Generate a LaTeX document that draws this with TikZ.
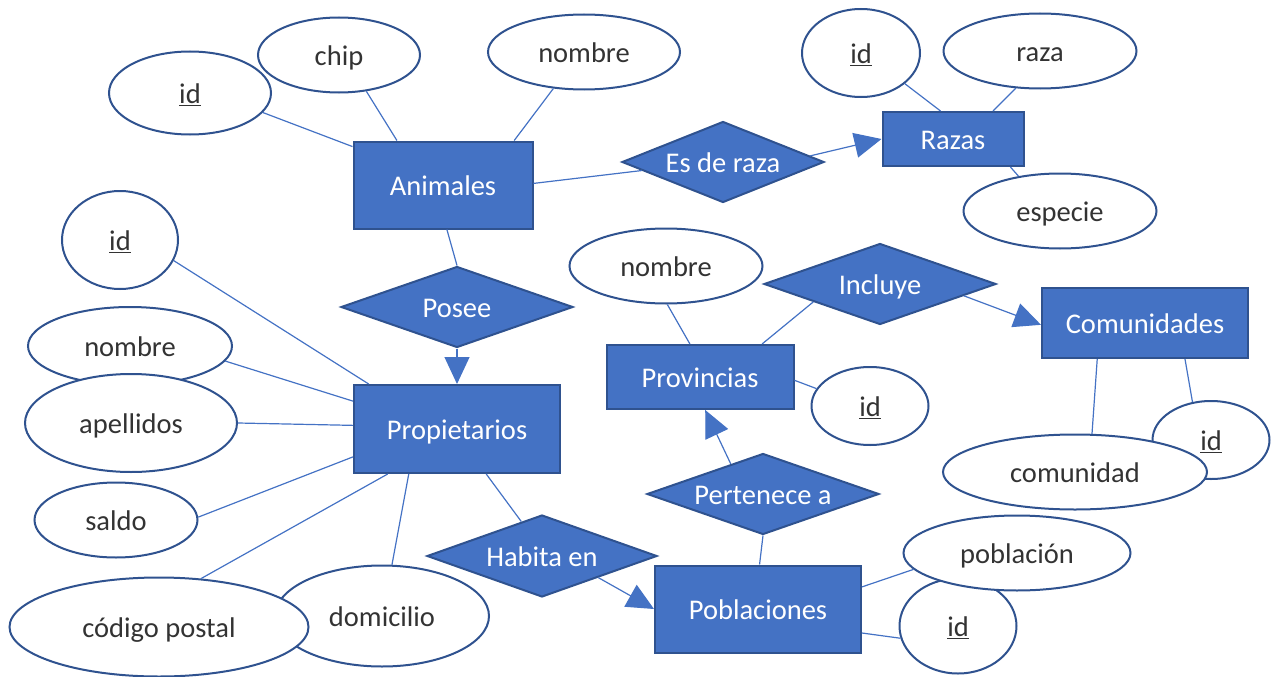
\documentclass[tikz,border=0pt]{standalone}
\usepackage{fontspec}
\setmainfont{Carlito}
\usetikzlibrary{shapes.geometric,arrows.meta}
\definecolor{erblue}{HTML}{4472C4}
\definecolor{erborder}{HTML}{2F528F}

\begin{document}
\begin{tikzpicture}[x=1pt,y=-1pt,
  font=\fontsize{28.5}{34}\selectfont,
  every node/.style={text height=23pt, text depth=2pt},
  entity/.style={draw=erborder, fill=erblue, line width=2pt, text=white, inner sep=0pt},
  relation/.style={diamond, draw=erborder, fill=erblue, line width=2pt, text=white, inner sep=0pt,
    aspect=2.875, minimum width=232pt, minimum height=81pt},
  attr/.style={ellipse, draw=erborder, fill=white, line width=2pt, text=black!80, inner sep=0pt},
  link/.style={erblue, line width=1.2pt},
  tolink/.style={link, -{Triangle[length=27pt,width=25pt]}}]
\useasboundingbox (0,0) rectangle (1280,677);

%Entities
\node[entity, minimum width=179pt, minimum height=87pt] (anim) at (443,185) {Animales};
\node[entity, minimum width=141pt, minimum height=54pt] (raz) at (953,139) {Razas};
\node[entity, minimum width=206pt, minimum height=88pt] (prop) at (457,429) {Propietarios};
\node[entity, minimum width=187pt, minimum height=64pt] (prov) at (700,377) {Provincias};
\node[entity, minimum width=206pt, minimum height=70pt] (com) at (1145,323) {Comunidades};
\node[entity, minimum width=206pt, minimum height=87pt] (pob) at (758,609) {Poblaciones};

%Relationships
\node[relation, minimum width=202pt, aspect=2.5] (esde) at (723,162) {Es de raza};
\node[relation] (posee) at (457,307) {Posee};
\node[relation] (incl) at (880,284) {Incluye};
\node[relation] (pert) at (763,494) {Pertenece a};
\node[relation, minimum width=230pt, minimum height=82pt] (habita) at (542,556) {Habita en};

%Attributes of Animales
\node[attr, minimum width=162pt, minimum height=83pt] (idA) at (190,93) {\underline{id}};
\node[attr, minimum width=162pt, minimum height=75pt] (chip) at (339,55) {chip};
\node[attr, minimum width=192pt, minimum height=75pt] (nomA) at (584,52) {nombre};

%Attributes of Razas
\node[attr, minimum width=118pt, minimum height=88pt] (idR) at (861,53) {\underline{id}};
\node[attr, minimum width=193pt, minimum height=75pt] (raza) at (1040,51) {raza};
\node[attr, minimum width=193pt, minimum height=75pt] (espe) at (1060,211) {especie};

%Attributes of Propietarios
\node[attr, minimum width=116pt, minimum height=98pt] (idP) at (120,240) {\underline{id}};
\node[attr, minimum width=204pt, minimum height=78pt] (nomP) at (130,346) {nombre};
\node[attr, minimum width=212pt, minimum height=98pt] (apell) at (131,423) {apellidos};
\node[attr, minimum width=163pt, minimum height=75pt] (saldo) at (116,520) {saldo};
\node[attr, minimum width=214pt, minimum height=101pt] (dom) at (382,616) {domicilio};
\node[attr, minimum width=299pt, minimum height=99pt] (cp) at (159,627) {código postal};

%Attributes of Provincias and Comunidades
\node[attr, minimum width=193pt, minimum height=75pt] (nomV) at (666,266) {nombre};
\node[attr, minimum width=117pt, minimum height=78pt] (idV) at (870,406) {\underline{id}};
\node[attr, minimum width=117pt, minimum height=78pt] (idC) at (1211,440) {\underline{id}};
\node[attr, minimum width=264pt, minimum height=75pt] (comd) at (1075,472) {comunidad};

%Attributes of Poblaciones
\node[attr, minimum width=117pt, minimum height=95pt] (idB) at (958,626) {\underline{id}};
\node[attr, minimum width=227pt, minimum height=75pt] (pobl) at (1017,553) {población};

%Links
\draw[link] (anim.157) -- (idA.345);
\draw[link] (anim.136) -- (chip.307);
\draw[link] (anim.32) -- (nomA.230);
\draw[link] (anim.1) -- (esde.186);
\draw[link] (anim.275) -- (posee.north);
\draw[link] (raz.114) -- (idR.325);
\draw[link] (raz.35) -- (raza.237);
\draw[link] (raz.334) -- (espe.140);
\draw[link] (prop.153) -- (idP.339);
\draw[link] (prop.165) -- (nomP.351);
\draw[link] (prop.178) -- (apell.east);
\draw[link] (prop.195) -- (saldo.2);
\draw[link] (prop.213) -- (cp.49);
\draw[link] (prop.223) -- (dom.79);
\draw[link] (prop.303) -- (habita.121);
\draw[link] (prov.107) -- (nomV.272);
\draw[link] (prov.358) -- (idV.162);
\draw[link] (prov.28) -- (incl.195);
\draw[link] (com.217) -- (comd.66);
\draw[link] (com.318) -- (idC.116);
\draw[link] (pob.88) -- (pert.south);
\draw[link] (pob.12) -- (pobl.189);
\draw[link] (pob.347) -- (idB.192);

%Arrows
\draw[tolink] (esde.4) -- (raz.west);
\draw[tolink] (posee.south) -- (prop.north);
\draw[tolink] (incl.352) -- (com.181);
\draw[tolink] (pert.137) -- (prov.279);
\draw[tolink] (habita.339) -- (pob.west);
\end{tikzpicture}
\end{document}
